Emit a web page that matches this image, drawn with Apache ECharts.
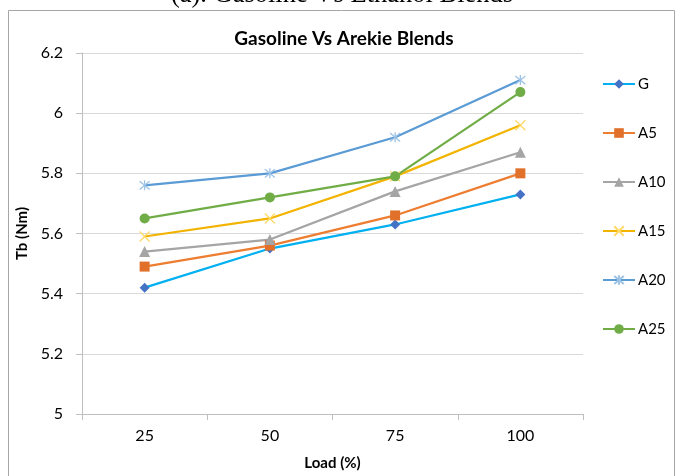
<!DOCTYPE html>
<html>
<head>
<meta charset="utf-8">
<script src="https://cdn.jsdelivr.net/npm/echarts@6/dist/echarts.min.js"></script>
<style>
html,body{margin:0;padding:0;background:#fff;}
#c{width:676px;height:476px;}
</style>
</head>
<body>
<div id="c"></div>
<script>
const categories = ['25', '50', '75', '100'];
const G   = [5.42, 5.55, 5.63, 5.73];
const A5  = [5.49, 5.56, 5.66, 5.80];
const A10 = [5.54, 5.58, 5.74, 5.87];
const A15 = [5.59, 5.65, 5.79, 5.96];
const A20 = [5.76, 5.80, 5.92, 6.11];
const A25 = [5.65, 5.72, 5.79, 6.07];

const FONT = 'Lato, "Open Sans", sans-serif';
const xPath = 'path://M0,0L10,10M10,0L0,10';
const starPath = 'path://M0,0L10,10M10,0L0,10M5,-1L5,11';

function mk(name, data, lineColor, symbol, size, markColor, stroke) {
  return {
    name, type: 'line', data, symbol, symbolSize: size,
    lineStyle: { color: lineColor, width: 2.25 },
    itemStyle: stroke ? { color: 'rgba(0,0,0,0)', borderColor: markColor, borderWidth: 1.3 }
                      : { color: markColor, borderWidth: 0 },
    emphasis: { disabled: true },
    animation: false
  };
}

const chart = echarts.init(document.getElementById('c'));
chart.setOption({
  animation: false,
  backgroundColor: '#fff',
  title: {
    text: 'Gasoline Vs Arekie Blends',
    left: 339, top: 24, textAlign: 'center',
    textStyle: { fontFamily: FONT, fontSize: 19, fontWeight: 'bold', color: '#000' }
  },
  graphic: [
    { type: 'rect', shape: { x: 8.5, y: 10.5, width: 666, height: 480 }, style: { fill: 'none', stroke: '#a6a6a6', lineWidth: 1 }, z: -1 },
    { type: 'text', x: 342, y: 9, style: { text: '(a). Gasoline Vs Ethanol Blends', font: '26.5px "Liberation Serif", "Times New Roman", serif', fill: '#000', textAlign: 'center', textVerticalAlign: 'bottom' } }
  ],
  legend: {
    orient: 'vertical', left: 597, top: 71,
    itemWidth: 32, itemHeight: 12, itemGap: 33,
    textStyle: { fontFamily: FONT, fontSize: 15, color: '#000', padding: [0, 0, 0, -2], lineHeight: 16 },
    data: ['G', 'A5', 'A10', 'A15', 'A20', 'A25']
  },
  grid: { left: 82, right: 93, top: 53, bottom: 53, containLabel: false },
  xAxis: {
    type: 'category', data: categories, boundaryGap: true,
    name: 'Load (%)', nameLocation: 'middle', nameGap: 42,
    nameTextStyle: { fontFamily: FONT, fontSize: 15, fontWeight: 'bold', color: '#000' },
    axisLine: { lineStyle: { color: '#bfbfbf', width: 1 } },
    axisTick: { show: true, length: 6, lineStyle: { color: '#bfbfbf' } },
    axisLabel: { fontFamily: FONT, fontSize: 16, color: '#000', margin: 14 },
    splitLine: { show: false }
  },
  yAxis: {
    type: 'value', min: 5, max: 6.2, interval: 0.2,
    name: 'Tb (Nm)', nameLocation: 'middle', nameGap: 45,
    nameTextStyle: { fontFamily: FONT, fontSize: 15, fontWeight: 'bold', color: '#000' },
    axisLine: { show: true, lineStyle: { color: '#bfbfbf', width: 1 } },
    axisTick: { show: true, length: 6, lineStyle: { color: '#bfbfbf' } },
    axisLabel: { fontFamily: FONT, fontSize: 16, color: '#000', margin: 19,
      formatter: v => String(Math.round(v * 10) / 10) },
    splitLine: { lineStyle: { color: '#d9d9d9', width: 1 } }
  },
  series: [
    mk('G', G, '#00B0F0', 'diamond', 10, '#4472C4', false),
    mk('A5', A5, '#ED7D31', 'rect', 10, '#E0702A', false),
    mk('A10', A10, '#A5A5A5', 'triangle', 11, '#A5A5A5', false),
    mk('A15', A15, '#F2B400', xPath, 10, '#FFD966', true),
    mk('A20', A20, '#5B9BD5', starPath, 10, '#9DC3E6', true),
    mk('A25', A25, '#70AD47', 'circle', 10, '#70AD47', false)
  ]
});
</script>
</body>
</html>
